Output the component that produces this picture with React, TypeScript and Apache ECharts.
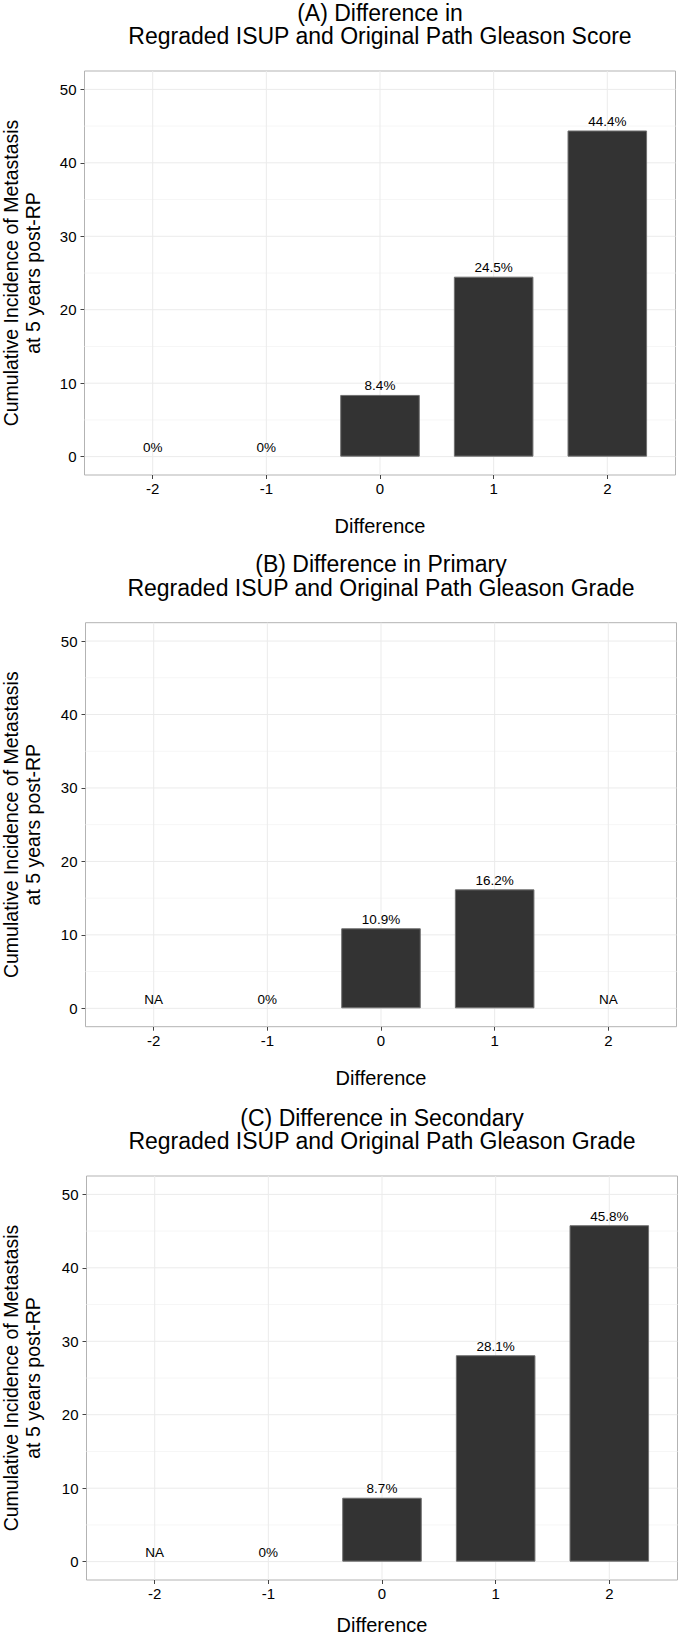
import React, { useEffect, useRef } from "react";
import * as echarts from "echarts";

// ---------- data ----------
const CATEGORIES = [-2, -1, 0, 1, 2];
const VALUES_A: (number | null)[] = [0, 0, 8.4, 24.5, 44.4];
const VALUES_B: (number | null)[] = [null, 0, 10.9, 16.2, null];
const VALUES_C: (number | null)[] = [null, 0, 8.7, 28.1, 45.8];
const TITLES_A = ["(A) Difference in", "Regraded ISUP and Original Path Gleason Score"];
const TITLES_B = ["(B) Difference in Primary", "Regraded ISUP and Original Path Gleason Grade"];
const TITLES_C = ["(C) Difference in Secondary", "Regraded ISUP and Original Path Gleason Grade"];
const Y_TICKS = [0, 10, 20, 30, 40, 50];
const Y_MINOR = [5, 15, 25, 35, 45];
const X_AXIS_TITLE = "Difference";
const Y_AXIS_TITLE = ["Cumulative Incidence of Metastasis", "at 5 years post-RP"];

// ---------- layout ----------
const PAGE_H = 1637;
const X_MIN = -2.6;
const X_MAX = 2.6;
const Y_MIN = -2.5;
const Y_MAX = 52.5;
const W = 591;
const H = 404;
const PANELS = [
  { left: 84.5, top: 71, values: VALUES_A, titles: TITLES_A },
  { left: 85.5, top: 622.7, values: VALUES_B, titles: TITLES_B },
  { left: 86.5, top: 1176, values: VALUES_C, titles: TITLES_C },
];
const FONT = '"Liberation Sans", Arial, Helvetica, sans-serif';

export default function App() {
  const ref = useRef<HTMLDivElement>(null);
  useEffect(() => {
    if (!ref.current) return;
    const chart = echarts.init(ref.current, undefined, { renderer: "svg" });
    const barWidth = (0.7 * W) / (X_MAX - X_MIN);

    const grids: any[] = [];
    const xAxes: any[] = [];
    const yAxes: any[] = [];
    const series: any[] = [];
    const graphics: any[] = [];

    PANELS.forEach((p, i) => {
      grids.push({
        left: p.left,
        top: p.top,
        width: W,
        height: H,
        show: true,
        borderColor: "#b3b3b3",
        borderWidth: 1,
        backgroundColor: "#ffffff",
        containLabel: false,
      });
      xAxes.push({
        type: "value",
        gridIndex: i,
        position: "bottom",
        min: X_MIN,
        max: X_MAX,
        axisLine: { show: false, onZero: false },
        splitLine: { show: false },
        axisTick: {
          show: true,
          length: 4,
          customValues: CATEGORIES,
          lineStyle: { color: "#444", width: 1 },
        },
        axisLabel: {
          customValues: CATEGORIES,
          margin: 6,
          fontSize: 15,
          fontFamily: FONT,
          color: "#000",
        },
      });
      yAxes.push({
        type: "value",
        gridIndex: i,
        position: "left",
        min: Y_MIN,
        max: Y_MAX,
        axisLine: { show: false, onZero: false },
        splitLine: { show: false },
        axisTick: {
          show: true,
          length: 4,
          customValues: Y_TICKS,
          lineStyle: { color: "#444", width: 1 },
        },
        axisLabel: {
          customValues: Y_TICKS,
          margin: 8,
          fontSize: 15,
          fontFamily: FONT,
          color: "#000",
        },
      });

      const gridData: number[][] = [];
      Y_MINOR.forEach((v) => gridData.push([0, v, 0]));
      Y_TICKS.forEach((v) => gridData.push([0, v, 1]));
      CATEGORIES.forEach((v) => gridData.push([1, v, 1]));
      series.push({
        type: "custom",
        xAxisIndex: i,
        yAxisIndex: i,
        silent: true,
        z: 1,
        data: gridData,
        renderItem: (_params: any, api: any) => {
          const orient = api.value(0);
          const v = api.value(1);
          const major = api.value(2);
          const p1 = orient === 0 ? api.coord([X_MIN, v]) : api.coord([v, Y_MIN]);
          const p2 = orient === 0 ? api.coord([X_MAX, v]) : api.coord([v, Y_MAX]);
          return {
            type: "line",
            shape: { x1: p1[0], y1: p1[1], x2: p2[0], y2: p2[1] },
            style: { stroke: major ? "#ebebeb" : "#f6f6f6", lineWidth: 1 },
          };
        },
      });

      series.push({
        type: "bar",
        xAxisIndex: i,
        yAxisIndex: i,
        z: 2,
        barWidth,
        data: CATEGORIES.map((c, k) => {
          const v = p.values[k];
          const y = v == null ? 0 : v;
          return {
            value: [c, y],
            itemStyle: {
              color: "#333333",
              borderColor: "#707070",
              borderWidth: y > 0 ? 1 : 0,
            },
          };
        }),
        label: {
          show: true,
          position: "top",
          distance: 2,
          fontSize: 13.5,
          fontFamily: FONT,
          color: "#000",
          formatter: (params: any) => {
            const v = p.values[params.dataIndex];
            return v == null ? "NA" : `${v}%`;
          },
        },
      });

      const cx = p.left + W / 2;
      graphics.push({
        type: "text",
        x: cx,
        y: p.top - 58.5,
        style: {
          text: p.titles[0],
          fontSize: 23,
          fontFamily: FONT,
          fill: "#000",
          textAlign: "center",
          textVerticalAlign: "middle",
        },
      });
      graphics.push({
        type: "text",
        x: cx,
        y: p.top - 35,
        style: {
          text: p.titles[1],
          fontSize: 23,
          fontFamily: FONT,
          fill: "#000",
          textAlign: "center",
          textVerticalAlign: "middle",
        },
      });
      graphics.push({
        type: "text",
        x: cx,
        y: Math.min(p.top + H + 51, PAGE_H - 12),
        style: {
          text: X_AXIS_TITLE,
          fontSize: 20,
          fontFamily: FONT,
          fill: "#000",
          textAlign: "center",
          textVerticalAlign: "middle",
        },
      });
      graphics.push({
        type: "text",
        x: 22.2,
        y: p.top + H / 2,
        rotation: Math.PI / 2,
        style: {
          text: Y_AXIS_TITLE.join("\n"),
          fontSize: 19.5,
          lineHeight: 21.5,
          fontFamily: FONT,
          fill: "#000",
          textAlign: "center",
          textVerticalAlign: "middle",
        },
      });
    });

    chart.setOption({
      animation: false,
      backgroundColor: "#ffffff",
      grid: grids,
      xAxis: xAxes,
      yAxis: yAxes,
      series,
      graphic: graphics,
    });
    return () => chart.dispose();
  }, []);

  return (
    <div
      ref={ref}
      style={{ position: "absolute", left: 0, top: 0, width: 678, height: PAGE_H }}
    />
  );
}
